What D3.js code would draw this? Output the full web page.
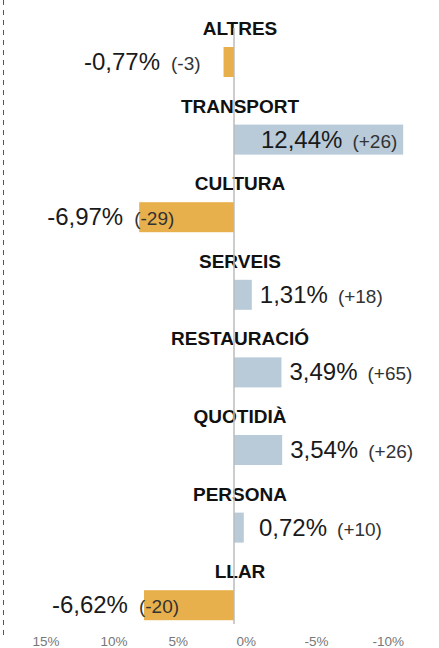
<!DOCTYPE html>
<html>
<head>
<meta charset="utf-8">
<script src="https://cdn.jsdelivr.net/npm/d3@7"></script>
<style>
  body { margin: 0; background: #fff; }
  text { font-family: "Liberation Sans", Arial, Helvetica, sans-serif; }
</style>
</head>
<body>
<div class="box"></div>
<script>
// dades
const categories = ['ALTRES', 'TRANSPORT', 'CULTURA', 'SERVEIS', 'RESTAURACIÓ', 'QUOTIDIÀ', 'PERSONA', 'LLAR'];
const pctValues = [-0.77, 12.44, -6.97, 1.31, 3.49, 3.54, 0.72, -6.62];
const countValues = [-3, 26, -29, 18, 65, 26, 10, -20];
const tickValues = [-15, -10, -5, 0, 5, 10];

const width = 439;
const height = 648;

const svg = d3.select('.box')
              .append('svg')
              .attr('width', width)
              .attr('height', height);

// escales
const x = d3.scaleLinear()
            .domain([-15, 10])
            .range([30, 370]);

const y = d3.scaleBand()
            .domain(categories)
            .range([24, 24 + categories.length * 77.6]);

const fmt = v => v.toFixed(2).replace('.', ',') + '%';
const fmtCount = v => '(' + (v > 0 ? '+' : '') + v + ')';

// línia discontínua a l'esquerra
svg.append('line')
   .attr('x1', 3.5).attr('x2', 3.5)
   .attr('y1', 0).attr('y2', 636)
   .attr('stroke', '#555')
   .attr('stroke-width', 1)
   .attr('stroke-dasharray', '5,5');

const rows = svg.selectAll('g.row')
                .data(categories.map((c, i) => ({cat: c, pct: pctValues[i], n: countValues[i]})))
                .enter()
                .append('g')
                .attr('class', 'row')
                .attr('transform', d => `translate(0, ${y(d.cat)})`);

// barres
rows.append('rect')
    .attr('x', d => Math.min(x(0), x(d.pct)))
    .attr('y', 23)
    .attr('width', d => Math.abs(x(d.pct) - x(0)))
    .attr('height', 30)
    .attr('fill', d => d.pct < 0 ? '#e8b04c' : '#b9cbd9');

// etiquetes de categoria
rows.append('text')
    .attr('x', x(0) + 6)
    .attr('y', 11)
    .attr('text-anchor', 'middle')
    .style('font-size', '19px')
    .style('font-weight', 'bold')
    .attr('fill', '#111')
    .text(d => d.cat);

// valors
rows.each(function(d) {
  const g = d3.select(this);
  const pct = g.append('text')
               .attr('y', 46)
               .style('font-size', '24px')
               .attr('fill', '#1a1a1a')
               .text(fmt(d.pct));
  const cnt = g.append('text')
               .attr('y', 46)
               .style('font-size', '19px')
               .attr('fill', '#333')
               .text(fmtCount(d.n));
  const wPct = pct.node().getComputedTextLength();
  if (d.pct < 0) {
    const end = Math.min(x(d.pct) - 16, 160);
    pct.attr('x', end).attr('text-anchor', 'end');
    cnt.attr('x', end + 11);
  } else {
    let start = Math.max(x(d.pct) + 8, x(0) + 25);
    if (start + wPct + 60 > width) start = x(0) + 27;
    pct.attr('x', start);
    cnt.attr('x', start + wPct + 10);
  }
});

// línia del zero
svg.append('line')
   .attr('x1', x(0)).attr('x2', x(0))
   .attr('y1', 28).attr('y2', 624)
   .attr('stroke', '#bbb')
   .attr('stroke-width', 1.5);

// eix
const axeX = d3.axisBottom(x)
               .tickValues(tickValues)
               .tickSize(0)
               .tickFormat(d => `${-d}%`);

const groupeX = svg.append('g')
                   .attr('transform', 'translate(0, 634)')
                   .call(axeX);
groupeX.select('.domain').remove();
groupeX.selectAll('text')
       .attr('text-anchor', 'start')
       .attr('dx', 2)
       .attr('dy', 0)
       .attr('y', 12)
       .attr('fill', '#777')
       .style('font-size', '13.5px')
       .style('font-family', '"Liberation Sans", Arial, sans-serif');
</script>
</body>
</html>
